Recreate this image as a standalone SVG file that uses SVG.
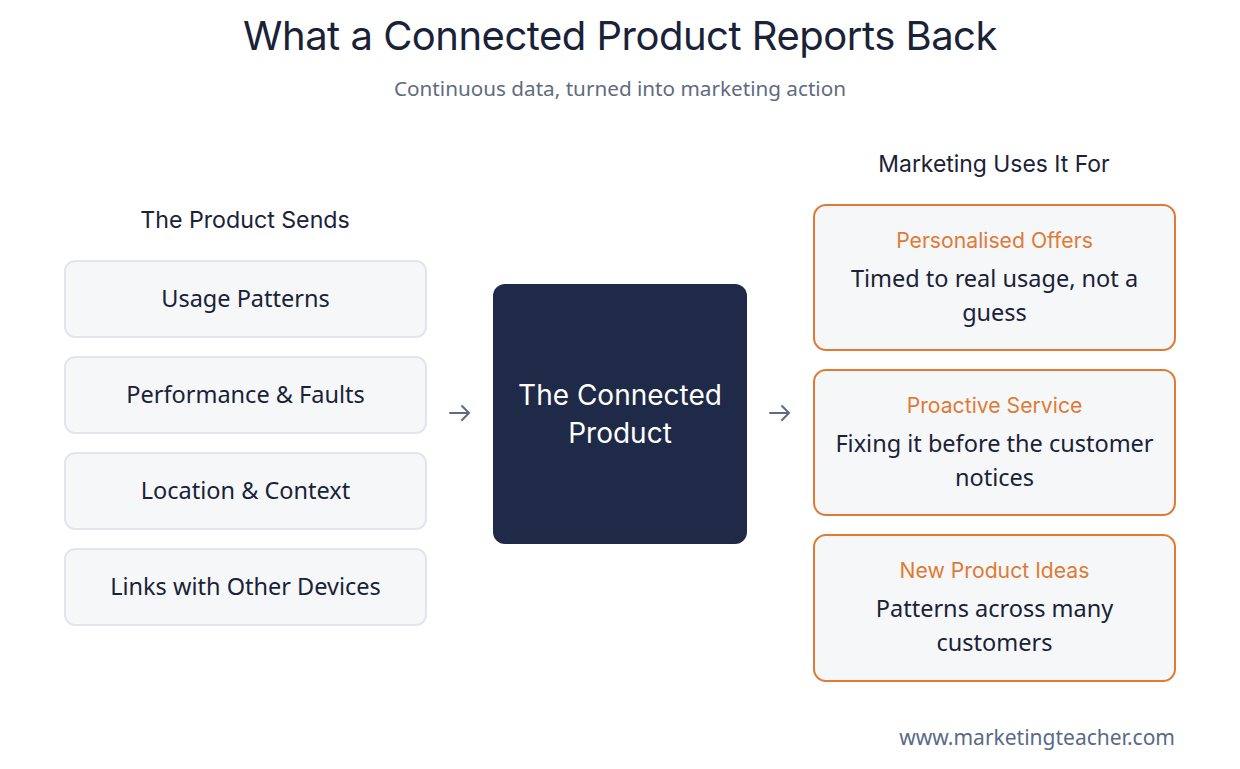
<svg xmlns="http://www.w3.org/2000/svg" width="1240" height="769" viewBox="0 0 1240 769">
<style>
.h{font-family:Inter,"Noto Sans",sans-serif;fill:#1a2238}
.b{font-family:"Noto Sans","Open Sans",sans-serif;fill:#1a2238;font-size:23.5px;text-anchor:middle}
.in{fill:#f5f7f9;stroke:#e2e5ec;stroke-width:2}
.out{fill:#f5f7f9;stroke:#e07a35;stroke-width:2}
.ot{font-family:Inter,"Noto Sans",sans-serif;fill:#e07a35;font-size:21.2px;text-anchor:middle}
.arr{stroke:#5f6b80;stroke-width:2;fill:none;stroke-linecap:round;stroke-linejoin:round}
</style>
<rect width="1240" height="769" fill="#ffffff"/>
<text class="h" x="620" y="50" font-size="40" text-anchor="middle" letter-spacing="-0.5">What a Connected Product Reports Back</text>
<text x="620" y="96" font-family="'Noto Sans',sans-serif" font-size="20.7" fill="#5f6b80" text-anchor="middle">Continuous data, turned into marketing action</text>
<text class="h" x="245" y="228" font-size="23.2" text-anchor="middle">The Product Sends</text>
<text class="h" x="994" y="172" font-size="22.9" text-anchor="middle">Marketing Uses It For</text>
<g id="in1"><rect class="in" x="65" y="261" width="361" height="76" rx="10"/><text class="b" x="245.5" y="307">Usage Patterns</text></g>
<g id="in2"><rect class="in" x="65" y="357" width="361" height="76" rx="10"/><text class="b" x="245.5" y="403">Performance &amp; Faults</text></g>
<g id="in3"><rect class="in" x="65" y="453" width="361" height="76" rx="10"/><text class="b" x="245.5" y="499">Location &amp; Context</text></g>
<g id="in4"><rect class="in" x="65" y="549" width="361" height="76" rx="10"/><text class="b" x="245.5" y="595">Links with Other Devices</text></g>
<g id="center"><rect x="493" y="284" width="254" height="260" rx="12" fill="#1e2a47"/>
<text x="620" y="405" font-family="Inter,'Noto Sans',sans-serif" font-size="28" fill="#ffffff" text-anchor="middle">The Connected</text>
<text x="620" y="443" font-family="Inter,'Noto Sans',sans-serif" font-size="28" fill="#ffffff" text-anchor="middle">Product</text></g>
<g id="out1"><rect class="out" x="814" y="205" width="361" height="145" rx="12"/><text class="ot" x="994.5" y="248">Personalised Offers</text><text class="b" x="994.5" y="287">Timed to real usage, not a</text><text class="b" x="994.5" y="321">guess</text></g>
<g id="out2"><rect class="out" x="814" y="370" width="361" height="145" rx="12"/><text class="ot" x="994.5" y="413">Proactive Service</text><text class="b" x="994.5" y="452">Fixing it before the customer</text><text class="b" x="994.5" y="486">notices</text></g>
<g id="out3"><rect class="out" x="814" y="535" width="361" height="146" rx="12"/><text class="ot" x="994.5" y="578">New Product Ideas</text><text class="b" x="994.5" y="617">Patterns across many</text><text class="b" x="994.5" y="651">customers</text></g>
<g id="connectors">
<path class="arr" d="M450 413H469M462 406L469 413L462 420"/>
<path class="arr" d="M770 413H789M782 406L789 413L782 420"/>
</g>
<text x="1175" y="745" font-family="'Noto Sans',sans-serif" font-size="21" fill="#5a6a85" text-anchor="end">www.marketingteacher.com</text>
</svg>
